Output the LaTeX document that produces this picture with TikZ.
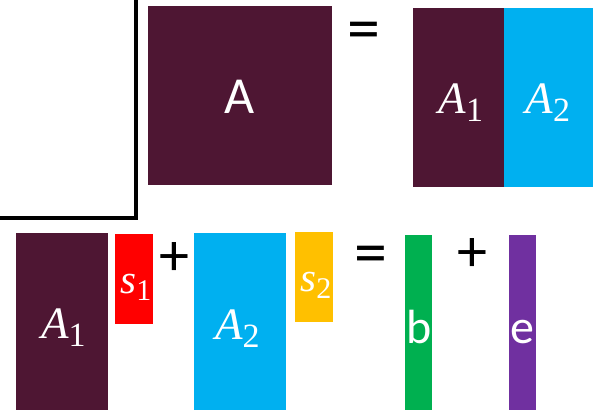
\documentclass[tikz,border=0pt]{standalone}
\usepackage{fontspec}
\setmainfont{Carlito}
\newfontfamily\mathlike{Liberation Serif}
\definecolor{darkp}{HTML}{4E1633}
\definecolor{cyanb}{HTML}{00B0F0}
\definecolor{redb}{HTML}{FF0000}
\definecolor{yellowb}{HTML}{FFC000}
\definecolor{greenb}{HTML}{00B050}
\definecolor{purpleb}{HTML}{7030A0}
\newcommand{\bigsym}[2]{{\mathlike\fontsize{45}{48}\selectfont\itshape #1}\raisebox{-8pt}{\mathlike\fontsize{34}{36}\selectfont #2}}
\newcommand{\smallsym}[2]{{\mathlike\fontsize{41}{44}\selectfont\itshape #1}\raisebox{-7pt}{\mathlike\fontsize{30}{32}\selectfont #2}}
\tikzset{
  blk/.style={inner sep=0pt, outer sep=0pt, text=white, anchor=base},
  eqop/.style={inner sep=0pt, font=\fontsize{66}{70}\selectfont},
  plusop/.style={inner sep=0pt, font=\fontsize{60}{64}\selectfont},
}
\begin{document}
\begin{tikzpicture}[x=1pt,y=-1pt]
\useasboundingbox (0,0) rectangle (595,410);
% black frame corner
\draw[line width=3.5pt] (136,-5) -- (136,218) -- (-5,218);
% top row
\fill[darkp] (148,6) rectangle (332,185);
\node[blk, font=\fontsize{52}{56}\selectfont] (A) at (240,113) {A};
\node[eqop] (eq1) at (363.5,36) {=};
\fill[darkp] (413,8) rectangle (504,187);
\fill[cyanb] (504,8) rectangle (593,187);
\node[blk] (A1t) at (461,113) {\bigsym{A}{1}};
\node[blk] (A2t) at (548,113) {\bigsym{A}{2}};
% bottom row
\fill[darkp] (16,233) rectangle (108,410);
\node[blk] (A1b) at (63.5,338) {\bigsym{A}{1}};
\fill[redb] (115,234) rectangle (153,324);
\node[blk] (s1) at (136,293) {\smallsym{s}{1}};
\node[plusop] (p1) at (174,259) {+};
\fill[cyanb] (194,233) rectangle (286,410);
\node[blk] (A2b) at (237.5,339) {\bigsym{A}{2}};
\fill[yellowb] (295,232) rectangle (333,322);
\node[blk] (s2) at (316,291) {\smallsym{s}{2}};
\node[eqop] (eq2) at (371,260) {=};
\fill[greenb] (405,235) rectangle (432,410);
\node[blk, font=\fontsize{48}{52}\selectfont] (b) at (419,343) {b};
\node[plusop] (p2) at (472,255.5) {+};
\fill[purpleb] (509,235) rectangle (536,410);
\node[blk, font=\fontsize{48}{52}\selectfont] (e) at (522.5,343) {e};
\end{tikzpicture}
\end{document}
